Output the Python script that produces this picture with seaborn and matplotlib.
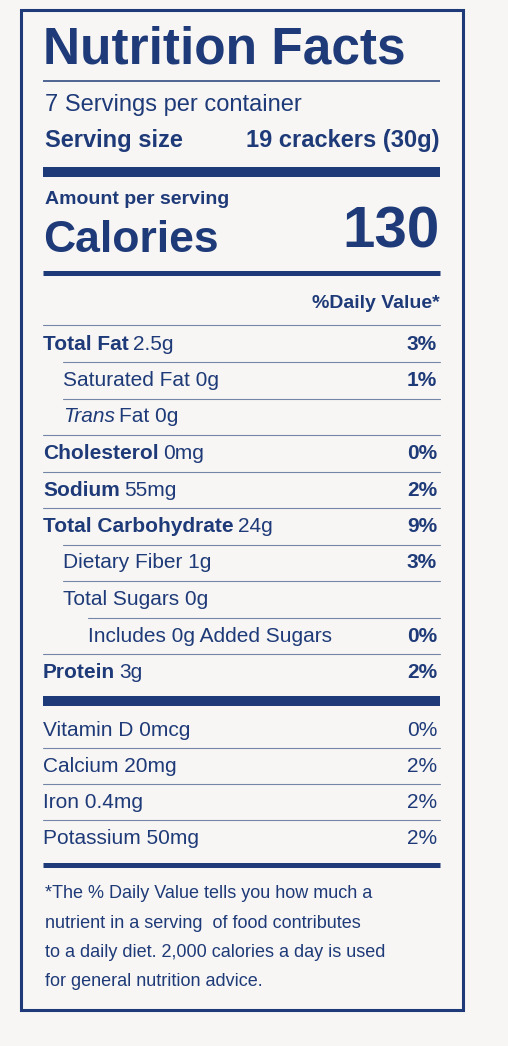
import matplotlib.pyplot as plt
import seaborn as sns

# label contents
title = "Nutrition Facts"
servings = "7 Servings per container"
serving_size = "19 crackers (30g)"
calories = "130"

names = ["Total Fat", "Saturated Fat", "Trans Fat", "Cholesterol", "Sodium",
         "Total Carbohydrate", "Dietary Fiber", "Total Sugars", "Includes 0g Added Sugars", "Protein"]
amounts = ["2.5g", "0g", "0g", "0mg", "55mg", "24g", "1g", "0g", "", "3g"]
daily = ["3%", "1%", "", "0%", "2%", "9%", "3%", "", "0%", "2%"]
indent = [0, 1, 1, 0, 0, 0, 1, 1, 2, 0]

vit_names = ["Vitamin D 0mcg", "Calcium 20mg", "Iron 0.4mg", "Potassium 50mg"]
vit_daily = ["0%", "2%", "2%", "2%"]

footnote = ["*The % Daily Value tells you how much a",
            "nutrient in a serving  of food contributes",
            "to a daily diet. 2,000 calories a day is used",
            "for general nutrition advice."]

sns.set_theme(style="white")
plt.rcParams['font.family'] = ['Liberation Sans', 'DejaVu Sans']

BLUE = "#1e3a78"
BG = "#f7f6f4"

fig = plt.figure(figsize=(5.08, 10.46), dpi=100, facecolor=BG)
ax = fig.add_axes([0, 0, 1, 1])
ax.set_facecolor(BG)
ax.set_xlim(0, 508)
ax.set_ylim(1046, 0)
ax.axis("off")

L, R = 43, 440


def hline(y, px):
    ax.plot([L, R], [y, y], color=BLUE, lw=px * 0.72, solid_capstyle="butt")


def right_edge(t):
    fig.canvas.draw()
    return t.get_window_extent().transformed(ax.transData.inverted()).x1


# border
ax.add_patch(plt.Rectangle((21, 10), 442, 1000, fill=False, ec=BLUE, lw=2.2))

ax.text(L, 50, title, fontsize=37, fontweight="bold", color=BLUE, va="center")
hline(81, 1.5)
ax.text(L + 2, 105, servings, fontsize=17, color=BLUE, va="center")
ax.text(L + 2, 141, "Serving size", fontsize=17, fontweight="bold", color=BLUE, va="center")
ax.text(R, 141, serving_size, fontsize=17, fontweight="bold", color=BLUE, va="center", ha="right")
hline(172, 10)
ax.text(L + 2, 199, "Amount per serving", fontsize=14, fontweight="bold", color=BLUE, va="center")
ax.text(L, 241, "Calories", fontsize=32, fontweight="bold", color=BLUE, va="center")
ax.text(R, 232, calories, fontsize=42, fontweight="bold", color=BLUE, va="center", ha="right")
hline(273, 5)
ax.text(R, 304, "%Daily Value*", fontsize=14, fontweight="bold", color=BLUE, va="center", ha="right")
ax.plot([L, R], [325, 325], color=BLUE, lw=0.8, alpha=0.6)

y0, step = 344, 36.5
xs = [L, 63, 88]
for i, name in enumerate(names):
    y = y0 + i * step
    x = xs[indent[i]]
    if indent[i] == 0:
        t = ax.text(x, y, name, fontsize=15, fontweight="bold", color=BLUE, va="center")
        ax.text(right_edge(t) + 4, y, amounts[i], fontsize=15, color=BLUE, va="center")
    elif name == "Trans Fat":
        t = ax.text(x, y, "Trans", fontsize=15, style="italic", color=BLUE, va="center")
        ax.text(right_edge(t) + 4, y, "Fat " + amounts[i], fontsize=15, color=BLUE, va="center")
    else:
        ax.text(x, y, (name + " " + amounts[i]).strip(), fontsize=15, color=BLUE, va="center")
    if daily[i]:
        ax.text(R - 3, y, daily[i], fontsize=15, fontweight="bold", color=BLUE, va="center", ha="right")
    if i < len(names) - 1:
        x0 = xs[indent[i + 1]] if indent[i + 1] else L
        ax.plot([x0, R], [y + 18, y + 18], color=BLUE, lw=0.8, alpha=0.6)

hline(701, 10)
for i, (n, d) in enumerate(zip(vit_names, vit_daily)):
    y = 730 + i * 36
    ax.text(L, y, n, fontsize=15, color=BLUE, va="center")
    ax.text(R - 3, y, d, fontsize=15, color=BLUE, va="center", ha="right")
    if i < len(vit_names) - 1:
        ax.plot([L, R], [y + 18, y + 18], color=BLUE, lw=0.8, alpha=0.6)
hline(865, 5)

for i, line in enumerate(footnote):
    ax.text(L + 2, 894 + i * 29.3, line, fontsize=13, color=BLUE, va="center")

fig.savefig("out.png", dpi=100, facecolor=BG)
